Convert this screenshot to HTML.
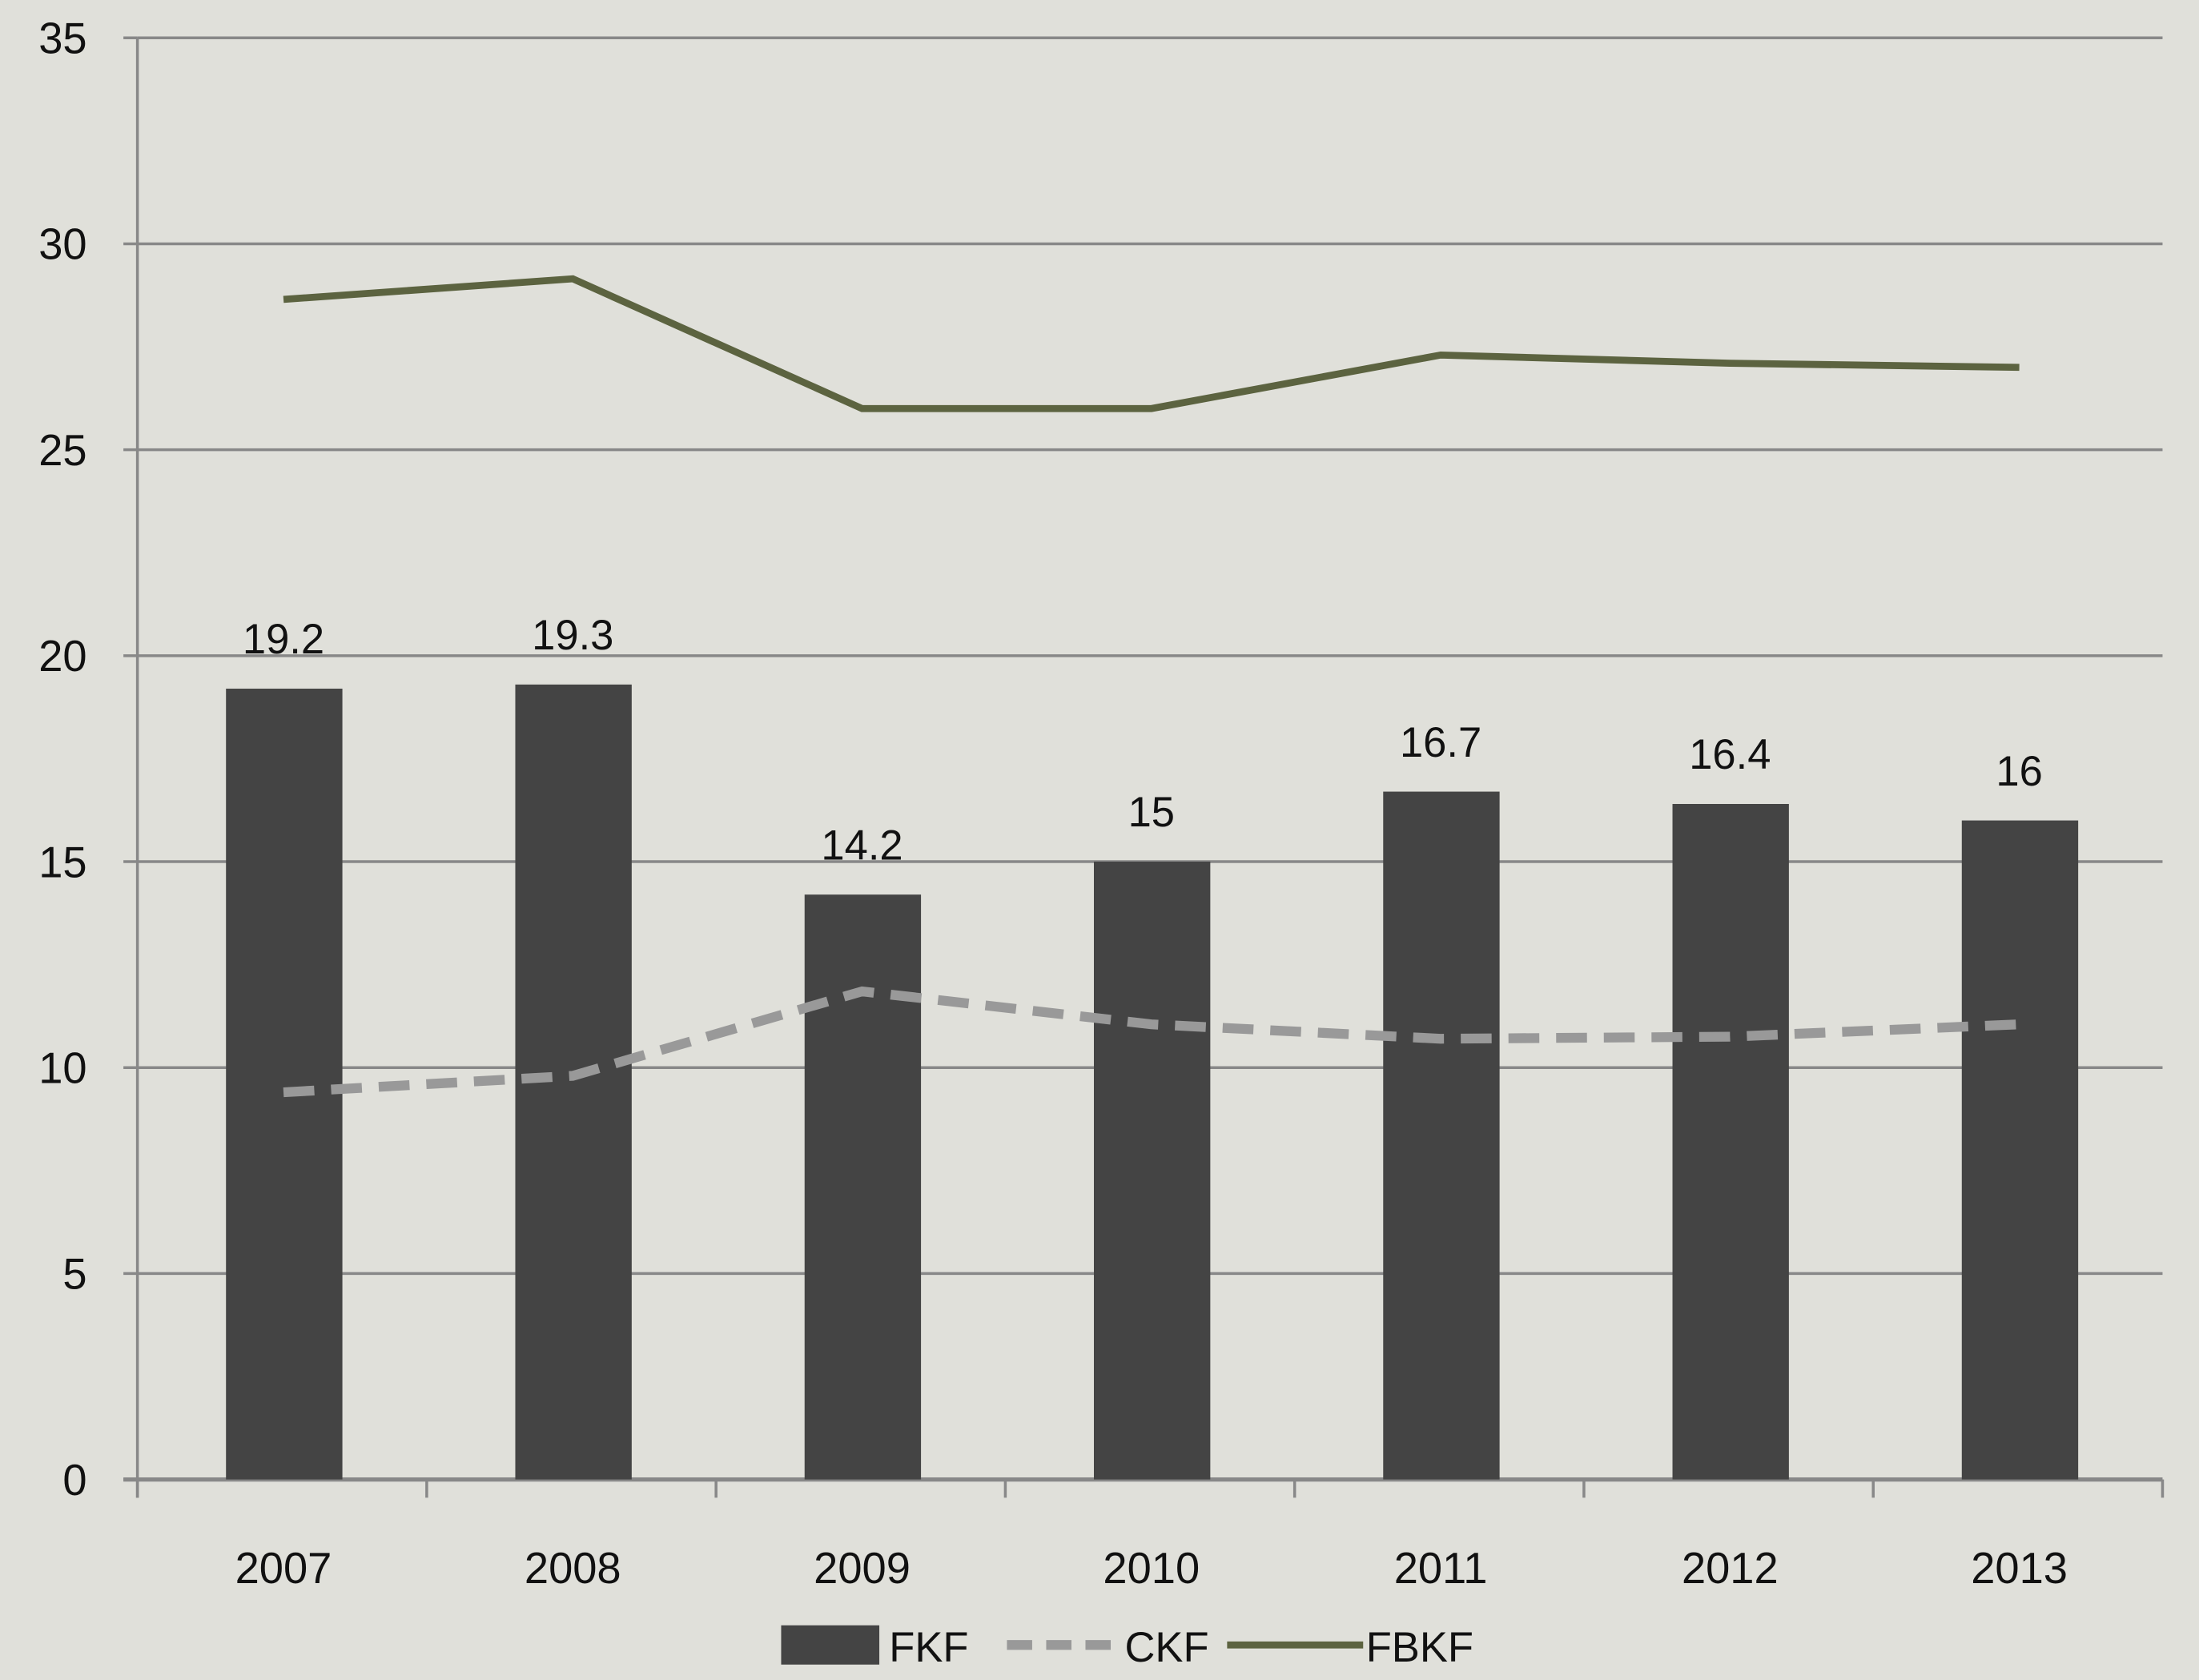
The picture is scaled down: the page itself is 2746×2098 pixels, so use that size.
<!DOCTYPE html>
<html><head><meta charset="utf-8"><style>
html,body{margin:0;padding:0;background:#e0e0da;}
svg{display:block;}
text{font-family:"Liberation Sans",Arial,sans-serif;fill:#111;}
</style></head><body>
<svg id="chart" width="2746" height="2098" viewBox="0 0 1568 1198" preserveAspectRatio="none" xmlns="http://www.w3.org/2000/svg">
<rect width="1568" height="1198" fill="#e0e0da"/>
<g id="grid"></g><g id="bars"></g><g id="lines"></g><g id="labels"></g>
<g id="legend">
  <rect x="557" y="1159" width="70" height="28" fill="#444"/>
  <text x="634" y="1185" font-size="30">FKF</text>
  <line x1="718" y1="1173" x2="800" y2="1173" stroke="#999" stroke-width="7" stroke-dasharray="18,10"/>
  <text x="802" y="1185" font-size="30">CKF</text>
  <line x1="875" y1="1173" x2="972" y2="1173" stroke="#5c6340" stroke-width="5"/>
  <text x="974" y="1185" font-size="30">FBKF</text>
</g>
</svg>
<script>
const categories=["2007","2008","2009","2010","2011","2012","2013"];
const fkf=[19.2,19.3,14.2,15,16.7,16.4,16];
const ckf=[9.4,9.8,11.85,11.05,10.7,10.75,11.05];
const fbkf=[28.65,29.15,26.0,26.0,27.3,27.1,27.0];
const yTicks=[0,5,10,15,20,25,30,35];
const NS="http://www.w3.org/2000/svg";
const x0=98,x1=1542,y0=1055,yTop=27,yMax=35;
const band=(x1-x0)/categories.length;
const X=i=>x0+band*(i+0.5)+1;
const Y=v=>y0-(y0-yTop)*v/yMax;
function mk(tag,attrs,parent){const e=document.createElementNS(NS,tag);for(const k in attrs)e.setAttribute(k,attrs[k]);document.getElementById(parent).appendChild(e);return e;}
yTicks.forEach(t=>{
  if(t>0){const g=mk('line',{x1:x0,x2:x1,y1:Y(t),y2:Y(t),stroke:'#888','stroke-width':2},'grid');
  
  }
  const tk=mk('line',{x1:88,x2:x0,y1:Y(t),y2:Y(t),stroke:'#888','stroke-width':2},'grid');
  
  
  const tx=mk('text',{x:62,y:Y(t)+11,'font-size':31,'text-anchor':'end'},'labels');tx.textContent=t;
  
  
});
const ya=mk('line',{x1:x0,x2:x0,y1:yTop,y2:1068,stroke:'#888','stroke-width':2},'grid');


for(let i=0;i<=categories.length;i++){
  const t=mk('line',{x1:x0+band*i,x2:x0+band*i,y1:y0,y2:1068,stroke:'#888','stroke-width':2},'grid');
  
  
}
categories.forEach((c,i)=>{
  const b=mk('rect',{x:X(i)-41,y:Y(fkf[i]),width:83,height:y0-Y(fkf[i]),fill:'#444'},'bars');
  
  
  const v=mk('text',{x:X(i),y:Y(fkf[i])-25,'font-size':30,'text-anchor':'middle'},'labels');v.textContent=fkf[i];
  
  
  const l=mk('text',{x:X(i),y:1129,'font-size':31,'text-anchor':'middle'},'labels');l.textContent=c;
  
  
});
const xa=mk('line',{x1:88,x2:x1,y1:y0,y2:y0,stroke:'#888','stroke-width':3},'grid');


const pc=mk('polyline',{points:ckf.map((v,i)=>X(i)+','+Y(v)).join(' '),fill:'none',stroke:'#999','stroke-width':7,'stroke-dasharray':'22,12'},'lines');


const pf=mk('polyline',{points:fbkf.map((v,i)=>X(i)+','+Y(v)).join(' '),fill:'none',stroke:'#5c6340','stroke-width':5},'lines');


</script>
</body></html>
